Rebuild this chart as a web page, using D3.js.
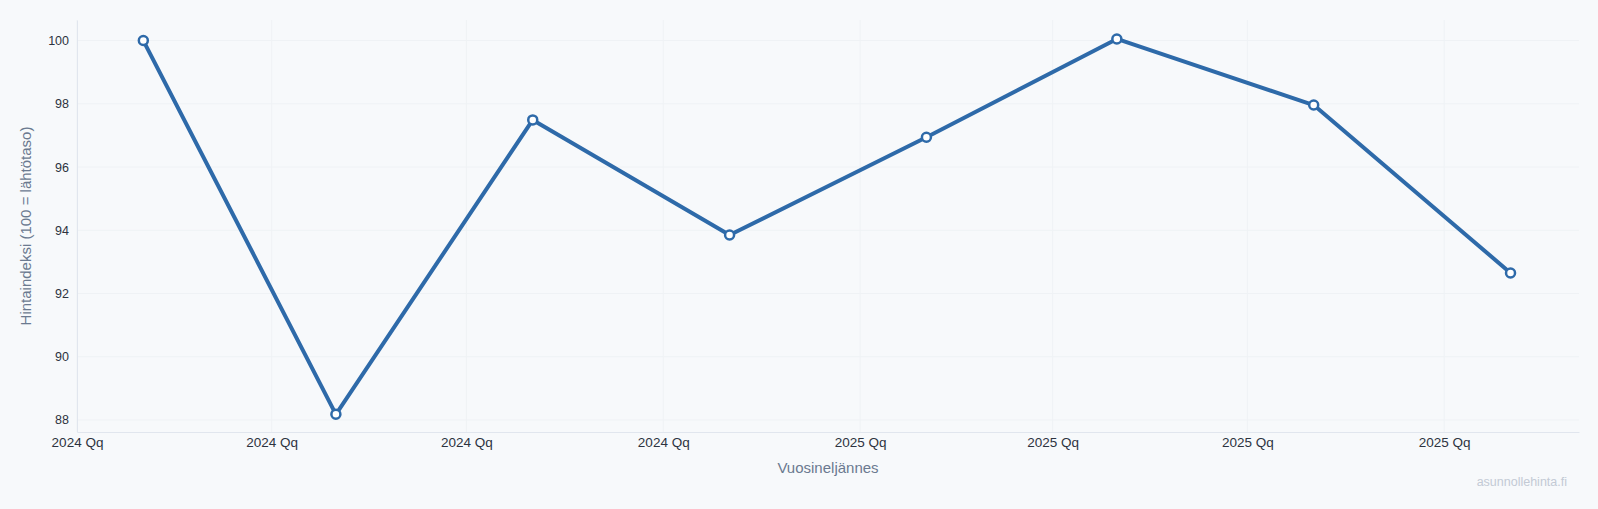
<!DOCTYPE html>
<html>
<head>
<meta charset="utf-8">
<script src="https://cdn.jsdelivr.net/npm/d3@7"></script>
<style>
  html, body { margin: 0; padding: 0; background: #f7f9fb; }
  svg { display: block; font-family: Helvetica, Arial, "Liberation Sans", sans-serif; }
  .axis path.domain { stroke: #e1e6ee; }
  .axis text { fill: #2d3340; }
</style>
</head>
<body>
<svg id="chart"></svg>
<script>
// quarter data points (one date per quarter)
const quarterDates = ["2024-02-01","2024-05-01","2024-08-01","2024-11-01",
                      "2025-02-01","2025-05-01","2025-08-01","2025-11-01"];
const indexValues = [100.0, 88.18, 97.49, 93.85, 96.94, 100.05, 97.96, 92.65];
const yTicks = [88, 90, 92, 94, 96, 98, 100];

const W = 1598, H = 509;
const m = {left: 77, right: 19, top: 20, bottom: 77};

const parse = d3.timeParse("%Y-%m-%d");
const data = quarterDates.map((d, i) => ({date: parse(d), val: indexValues[i]}));

const svg = d3.select('#chart')
  .attr('width', W).attr('height', H)
  .attr('viewBox', `0 0 ${W} ${H}`);

svg.append('rect').attr('width', W).attr('height', H).attr('fill', '#f7f9fb');

const x = d3.scaleTime()
  .domain([new Date(2024, 0, 1), new Date(2025, 11, 3)])
  .range([m.left, W - m.right]);

const y = d3.scaleLinear()
  .domain([87.62, 100.65])
  .range([H - m.bottom, m.top]);

const xTicks = x.ticks(d3.timeMonth.every(3));

// grid
const grid = svg.append('g').attr('stroke', '#eff2f5').attr('stroke-width', 1);
grid.selectAll('line.h')
  .data(yTicks)
  .join('line')
  .attr('class', 'h')
  .attr('x1', m.left).attr('x2', W - m.right)
  .attr('y1', d => y(d)).attr('y2', d => y(d));
grid.selectAll('line.v')
  .data(xTicks)
  .join('line')
  .attr('class', 'v')
  .attr('x1', d => x(d)).attr('x2', d => x(d))
  .attr('y1', m.top).attr('y2', H - m.bottom);

// axes
const yAxis = svg.append('g')
  .attr('class', 'axis')
  .attr('transform', `translate(${m.left},0)`)
  .call(d3.axisLeft(y).tickValues(yTicks).tickSize(0).tickPadding(8));
yAxis.selectAll('text').attr('font-size', 12.5);
yAxis.attr('font-family', null);

const xAxis = svg.append('g')
  .attr('class', 'axis')
  .attr('transform', `translate(0,${H - m.bottom})`)
  .call(d3.axisBottom(x)
    .ticks(d3.timeMonth.every(3))
    .tickFormat(d => d3.timeFormat("%Y")(d) + " Qq")
    .tickSize(0).tickPadding(5));
xAxis.selectAll('text').attr('font-size', 13.5);
xAxis.attr('font-family', null);

// titles
svg.append('text')
  .attr('x', (m.left + W - m.right) / 2)
  .attr('y', 473)
  .attr('text-anchor', 'middle')
  .attr('font-size', 15)
  .attr('fill', '#6b7a90')
  .text('Vuosineljännes');

svg.append('text')
  .attr('transform', `translate(31,${(m.top + H - m.bottom) / 2}) rotate(-90)`)
  .attr('text-anchor', 'middle')
  .attr('font-size', 15)
  .attr('fill', '#6b7a90')
  .text('Hintaindeksi (100 = lähtötaso)');

svg.append('text')
  .attr('x', 1567).attr('y', 486)
  .attr('text-anchor', 'end')
  .attr('font-size', 12.5)
  .attr('fill', '#c3cad5')
  .text('asunnollehinta.fi');

// line
const line = d3.line().x(d => x(d.date)).y(d => y(d.val));

svg.append('path')
  .datum(data)
  .attr('fill', 'none')
  .attr('stroke', '#2e6aa9')
  .attr('stroke-width', 4)
  .attr('stroke-linejoin', 'round')
  .attr('d', line);

svg.append('g')
  .selectAll('circle')
  .data(data)
  .join('circle')
  .attr('cx', d => x(d.date))
  .attr('cy', d => y(d.val))
  .attr('r', 4.5)
  .attr('fill', '#fff')
  .attr('stroke', '#2e6aa9')
  .attr('stroke-width', 2.5);
</script>
</body>
</html>
